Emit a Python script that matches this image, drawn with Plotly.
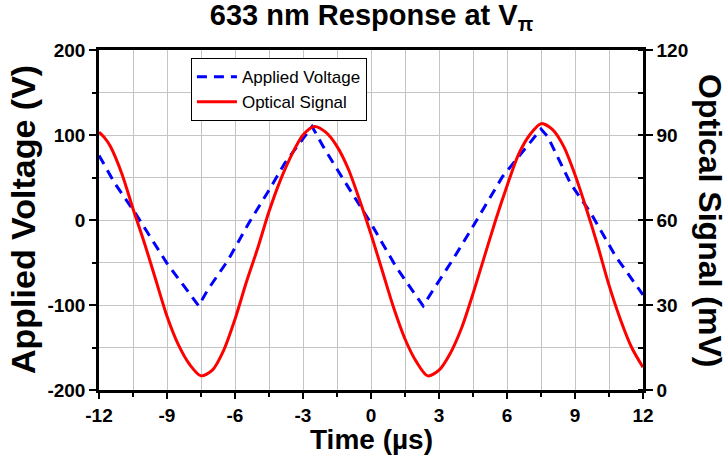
import plotly.graph_objects as go

# Applied voltage (V)
volt_t = [-12, -11.3, -10.4, -9.0, -7.6, -7.2, -6.3, -5.4, -4.5, -3.8, -2.6, -2.1, -1.2, 0.0,
          1.1, 2.3, 2.75, 3.6, 4.4, 5.1, 5.8, 7.5, 7.8, 8.8, 9.7, 10.8, 12.0]
volt_v = [76, 43, 8, -51, -101, -82, -47, -4, 35, 67, 110, 86, 47, -4,
          -55, -101, -82, -47, -12, 20, 51, 107, 98, 43, 8, -43, -88]

# Optical signal (mV)
opt_t = [-12, -11.75, -11.5, -11, -10.5, -10, -9.5, -9, -8.5, -8, -7.5, -7, -6.5, -6, -5.5, -5,
         -4.5, -4, -3.5, -3, -2.5, -2, -1.5, -1, -0.5, 0, 0.5, 1, 1.5, 2, 2.5, 3, 3.5, 4, 4.5,
         5, 5.5, 6, 6.5, 7, 7.5, 8, 8.5, 9, 9.5, 10, 10.5, 11, 11.5, 12]
opt_v = [91, 89, 86, 76.5, 64, 52, 39, 26, 16, 9, 5, 7, 14, 25, 38, 50,
         63, 74, 83, 90, 93, 91, 86, 78, 67, 55, 42, 29, 18, 10, 5, 7, 13, 22, 34,
         47, 60, 72, 83, 90, 94, 92, 86, 76, 64, 51, 37, 25, 15, 8]

x_ticks = [-12, -9, -6, -3, 0, 3, 6, 9, 12]
y1_ticks = [-200, -100, 0, 100, 200]
y2_ticks = [0, 30, 60, 90, 120]

FONT = "Liberation Sans, Arial, sans-serif"
GRID = "#c4c4c4"
AX_W = 2.5

fig = go.Figure()
fig.add_trace(go.Scatter(x=volt_t, y=volt_v, mode="lines", name="Applied Voltage",
                         line=dict(color="#0000ff", width=3, dash="10px,7px"), yaxis="y"))
fig.add_trace(go.Scatter(x=opt_t, y=opt_v, mode="lines", name="Optical Signal",
                         line=dict(color="#ff0000", width=3, shape="spline", smoothing=0.8),
                         yaxis="y2"))

tickfont = dict(family=FONT, size=19, color="black", weight="bold")

fig.update_layout(
    width=728, height=455,
    margin=dict(l=99, r=85, t=50, b=65, autoexpand=False),
    paper_bgcolor="white", plot_bgcolor="white",
    title=dict(text="<b>633 nm Response at V<sub>π</sub></b>", x=371.5 / 728, xanchor="center",
               xref="container", yref="container", y=1 - 14.5 / 455, yanchor="middle",
               font=dict(family=FONT, size=29, color="black")),
    showlegend=True,
    legend=dict(x=0.169, y=0.976, xanchor="left", yanchor="top",
                bgcolor="white", bordercolor="black", borderwidth=1,
                font=dict(family=FONT, size=17, color="black"),
                tracegroupgap=0, itemwidth=40),
    xaxis=dict(range=[-12, 12], tickvals=x_ticks, ticktext=[str(v) for v in x_ticks],
               ticks="outside", ticklen=6, tickwidth=2, tickcolor="black",
               showline=True, linecolor="black", linewidth=AX_W, mirror=True,
               showgrid=True, gridcolor=GRID, gridwidth=1, zeroline=False,
               tickfont=tickfont, automargin=False,
               minor=dict(dtick=1.5, tick0=0, ticks="outside", ticklen=4, tickwidth=2,
                          tickcolor="black", showgrid=True, gridcolor=GRID, gridwidth=1)),
    yaxis=dict(range=[-200, 200], tickvals=y1_ticks, ticktext=[str(v) for v in y1_ticks],
               ticks="outside", ticklen=7, tickwidth=2, tickcolor="black",
               showline=True, linecolor="black", linewidth=AX_W,
               showgrid=True, gridcolor=GRID, gridwidth=1, zeroline=False,
               tickfont=tickfont, automargin=False,
               minor=dict(dtick=50, tick0=0, ticks="outside", ticklen=4, tickwidth=2,
                          tickcolor="black", showgrid=True, gridcolor=GRID, gridwidth=1)),
    yaxis2=dict(range=[0, 120], tickvals=y2_ticks, ticktext=[str(v) for v in y2_ticks],
                overlaying="y", side="right",
                ticks="outside", ticklen=7, tickwidth=2, tickcolor="black",
                showline=True, linecolor="black", linewidth=AX_W,
                showgrid=False, zeroline=False, tickfont=tickfont, automargin=False,
                minor=dict(dtick=15, tick0=0, ticks="inside", ticklen=5, tickwidth=2,
                           tickcolor="black", showgrid=False)),
    annotations=[
        dict(text="<b>Applied Voltage (V)</b>", textangle=-90,
             xref="paper", yref="paper", x=0.0, y=0.5, xshift=-76,
             xanchor="center", yanchor="middle", showarrow=False,
             font=dict(family=FONT, size=34, color="black")),
        dict(text="<b>Optical Signal (mV)</b>", textangle=90,
             xref="paper", yref="paper", x=1.0, y=0.5, xshift=67,
             xanchor="center", yanchor="middle", showarrow=False,
             font=dict(family=FONT, size=32, color="black")),
        dict(text="<b>Time (µs)</b>",
             xref="paper", yref="paper", x=0.5, y=0.0, yshift=-49,
             xanchor="center", yanchor="middle", showarrow=False,
             font=dict(family=FONT, size=28, color="black")),
    ],
)

fig.write_html("out.html", config={"displayModeBar": False},
               post_script="document.body.style.margin='0px';"
                           "document.body.style.overflow='hidden';")
